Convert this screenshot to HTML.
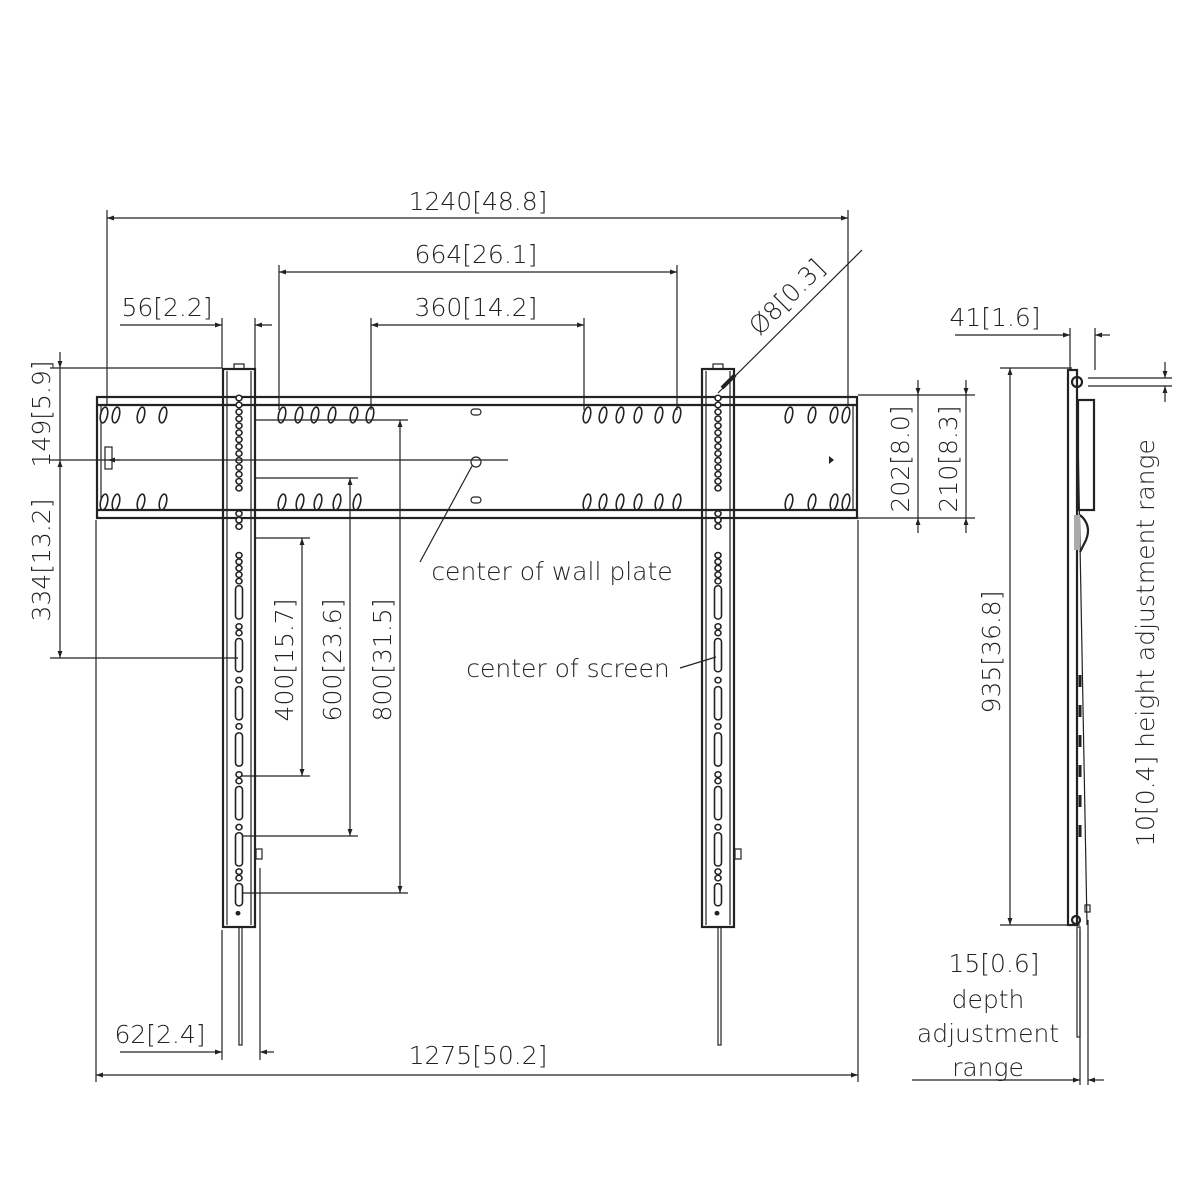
<!DOCTYPE html>
<html><head><meta charset="utf-8"><style>
html,body{margin:0;padding:0;background:#fff}
svg{display:block}
text{font-family:"DejaVu Sans","Liberation Sans",sans-serif;font-size:25px;fill:#222;font-weight:300}
.l{stroke:#222;stroke-width:1.2;fill:none}
.t{stroke:#222;stroke-width:2.2;fill:none}
.h{stroke:#222;stroke-width:1.6;fill:#fff}
</style></head><body>
<svg width="1200" height="1200" viewBox="0 0 1200 1200" xmlns="http://www.w3.org/2000/svg">
<defs>
<marker id="a" viewBox="0 0 10 10" refX="10" refY="5" markerWidth="14" markerHeight="7" orient="auto-start-reverse" markerUnits="userSpaceOnUse"><path d="M0,1.5 L10,5 L0,8.5z" fill="#222"/></marker>
<g id="ov"><ellipse cx="0" cy="0" rx="3.5" ry="8" class="h" transform="rotate(12)"/></g>
<g id="dot"><circle r="3" class="h" stroke-width="1.3"/></g>
<g id="slot"><rect x="-3.5" y="0" width="7" height="36" rx="3.5" class="h" stroke-width="1.4"/></g>
<g id="col">
 <use href="#dot" y="0"/><use href="#dot" y="7.5"/><use href="#dot" y="15"/><use href="#dot" y="22.5"/><use href="#dot" y="30"/><use href="#dot" y="37.5"/><use href="#dot" y="45"/><use href="#dot" y="52.5"/><use href="#dot" y="60"/><use href="#dot" y="67.5"/><use href="#dot" y="75"/><use href="#dot" y="82.5"/><use href="#dot" y="90"/><use href="#dot" y="97.5"/>
 <use href="#dot" y="125"/><use href="#dot" y="132"/><use href="#dot" y="139"/>
 <use href="#dot" y="170"/><use href="#dot" y="177"/><use href="#dot" y="184"/><use href="#dot" y="191"/><use href="#dot" y="198"/>
 <use href="#slot" y="203"/><use href="#dot" y="247"/><use href="#dot" y="254"/>
 <use href="#slot" y="260"/><use href="#dot" y="305"/>
 <use href="#slot" y="312"/><use href="#dot" y="355"/>
 <use href="#slot" y="362"/><use href="#dot" y="407"/><use href="#dot" y="414"/>
 <use href="#slot" y="420"/><use href="#dot" y="464"/>
 <use href="#slot" y="470"/><use href="#dot" y="512"/><use href="#dot" y="519"/>
 <rect x="-3.5" y="525" width="7" height="24" rx="3.5" class="h" stroke-width="1.4"/>
 <circle cx="-1" cy="557" r="2.5" fill="#222"/>
</g>
<g id="arm">
 <rect x="0" y="0" width="32" height="558" class="t" fill="#fff"/>
 <line x1="4" y1="2" x2="4" y2="556" class="l"/><line x1="28" y1="2" x2="28" y2="556" class="l"/>
 <rect x="11" y="-5" width="10" height="5" class="l"/>
 <g transform="translate(16,29) scale(1,0.925)"><use href="#col"/></g>
 <rect x="16" y="558" width="3" height="118" class="l"/>
 <rect x="33" y="480" width="6" height="10" class="l"/>
</g>
</defs>

<!-- wall plate -->
<rect x="97" y="397" width="760" height="121" class="t" fill="#fff"/>
<line x1="97" y1="405" x2="857" y2="405" class="t"/>
<line x1="97" y1="510" x2="857" y2="510" class="t"/>
<line x1="101" y1="405" x2="101" y2="510" class="l"/>
<line x1="853" y1="405" x2="853" y2="510" class="l"/>
<g>
<use href="#ov" x="104" y="415"/><use href="#ov" x="116" y="415"/><use href="#ov" x="141" y="415"/><use href="#ov" x="163" y="415"/>
<use href="#ov" x="104" y="502"/><use href="#ov" x="116" y="502"/><use href="#ov" x="141" y="502"/><use href="#ov" x="163" y="502"/>
<use href="#ov" x="282" y="415"/><use href="#ov" x="299" y="415"/><use href="#ov" x="315" y="415"/><use href="#ov" x="332" y="415"/><use href="#ov" x="354" y="415"/><use href="#ov" x="370" y="415"/>
<use href="#ov" x="282" y="502"/><use href="#ov" x="300" y="502"/><use href="#ov" x="318" y="502"/><use href="#ov" x="337" y="502"/><use href="#ov" x="357" y="502"/>
<use href="#ov" x="587" y="415"/><use href="#ov" x="603" y="415"/><use href="#ov" x="620" y="415"/><use href="#ov" x="638" y="415"/><use href="#ov" x="659" y="415"/><use href="#ov" x="677" y="415"/>
<use href="#ov" x="587" y="502"/><use href="#ov" x="603" y="502"/><use href="#ov" x="620" y="502"/><use href="#ov" x="638" y="502"/><use href="#ov" x="659" y="502"/><use href="#ov" x="677" y="502"/>
<use href="#ov" x="789" y="415"/><use href="#ov" x="812" y="415"/><use href="#ov" x="834" y="415"/><use href="#ov" x="846" y="415"/>
<use href="#ov" x="789" y="502"/><use href="#ov" x="812" y="502"/><use href="#ov" x="834" y="502"/><use href="#ov" x="846" y="502"/>
</g>
<rect x="105" y="447" width="7" height="22" class="l" fill="#444"/>
<rect x="471" y="409" width="10" height="6" rx="3" class="l"/>
<rect x="471" y="497" width="10" height="6" rx="3" class="l"/>
<circle cx="476" cy="462" r="5" class="l"/>
<path d="M829,456 l5,4 l-5,4z" fill="#222"/>

<!-- arms -->
<use href="#arm" x="223" y="369"/>
<use href="#arm" x="702" y="369"/>

<!-- centre line & extension lines -->
<line x1="50" y1="460" x2="508" y2="460" class="l"/>
<line x1="120" y1="460" x2="108" y2="460" class="l" marker-end="url(#a)"/>
<line x1="50" y1="368" x2="222" y2="368" class="l"/>
<line x1="50" y1="658" x2="238" y2="658" class="l"/>
<line x1="60" y1="352" x2="60" y2="368" class="l" marker-end="url(#a)"/>
<line x1="60" y1="368" x2="60" y2="460" class="l"/>
<line x1="60" y1="460" x2="60" y2="658" class="l" marker-start="url(#a)" marker-end="url(#a)"/>
<text transform="translate(50,414) rotate(-90)" text-anchor="middle">149[5.9]</text>
<text transform="translate(50,560) rotate(-90)" text-anchor="middle">334[13.2]</text>

<!-- top dims -->
<line x1="107" y1="210" x2="107" y2="405" class="l"/>
<line x1="848" y1="210" x2="848" y2="405" class="l"/>
<line x1="107" y1="218" x2="848" y2="218" class="l" marker-start="url(#a)" marker-end="url(#a)"/>
<text x="478" y="210" text-anchor="middle">1240[48.8]</text>
<line x1="279" y1="265" x2="279" y2="410" class="l"/>
<line x1="677" y1="265" x2="677" y2="410" class="l"/>
<line x1="279" y1="272" x2="677" y2="272" class="l" marker-start="url(#a)" marker-end="url(#a)"/>
<text x="476" y="263" text-anchor="middle">664[26.1]</text>
<line x1="371" y1="318" x2="371" y2="410" class="l"/>
<line x1="584" y1="318" x2="584" y2="410" class="l"/>
<line x1="371" y1="325" x2="584" y2="325" class="l" marker-start="url(#a)" marker-end="url(#a)"/>
<text x="476" y="316" text-anchor="middle">360[14.2]</text>
<line x1="222" y1="318" x2="222" y2="368" class="l"/>
<line x1="255" y1="318" x2="255" y2="368" class="l"/>
<line x1="205" y1="325" x2="222" y2="325" class="l" marker-end="url(#a)"/>
<line x1="272" y1="325" x2="255" y2="325" class="l" marker-end="url(#a)"/>
<line x1="120" y1="325" x2="205" y2="325" class="l"/>
<text x="167" y="316" text-anchor="middle">56[2.2]</text>
<line x1="718" y1="393" x2="862" y2="250" class="l"/>
<line x1="722" y1="388" x2="735" y2="375" stroke="#222" stroke-width="4"/>
<text transform="translate(793,303) rotate(-45)" text-anchor="middle">Ø8[0.3]</text>

<!-- right plate dims -->
<line x1="858" y1="395" x2="975" y2="395" class="l"/>
<line x1="858" y1="518" x2="975" y2="518" class="l"/>
<line x1="918" y1="380" x2="918" y2="395" class="l" marker-end="url(#a)"/>
<line x1="918" y1="533" x2="918" y2="518" class="l" marker-end="url(#a)"/>
<line x1="918" y1="395" x2="918" y2="518" class="l"/>
<line x1="966" y1="380" x2="966" y2="395" class="l" marker-end="url(#a)"/>
<line x1="966" y1="533" x2="966" y2="518" class="l" marker-end="url(#a)"/>
<line x1="966" y1="395" x2="966" y2="518" class="l"/>
<text transform="translate(909,459) rotate(-90)" text-anchor="middle">202[8.0]</text>
<text transform="translate(957,459) rotate(-90)" text-anchor="middle">210[8.3]</text>

<!-- 400/600/800 -->
<line x1="255" y1="420" x2="408" y2="420" class="l"/>
<line x1="255" y1="478" x2="358" y2="478" class="l"/>
<line x1="255" y1="538" x2="310" y2="538" class="l"/>
<line x1="242" y1="776" x2="310" y2="776" class="l"/>
<line x1="242" y1="836" x2="358" y2="836" class="l"/>
<line x1="242" y1="893" x2="408" y2="893" class="l"/>
<line x1="302" y1="538" x2="302" y2="776" class="l" marker-start="url(#a)" marker-end="url(#a)"/>
<line x1="350" y1="478" x2="350" y2="836" class="l" marker-start="url(#a)" marker-end="url(#a)"/>
<line x1="400" y1="420" x2="400" y2="893" class="l" marker-start="url(#a)" marker-end="url(#a)"/>
<rect x="272" y="598" width="24" height="125" fill="#fff"/>
<rect x="320" y="598" width="24" height="125" fill="#fff"/>
<rect x="370" y="598" width="24" height="125" fill="#fff"/>
<text transform="translate(293,660) rotate(-90)" text-anchor="middle">400[15.7]</text>
<text transform="translate(341,660) rotate(-90)" text-anchor="middle">600[23.6]</text>
<text transform="translate(391,660) rotate(-90)" text-anchor="middle">800[31.5]</text>

<!-- callouts -->
<line x1="420" y1="562" x2="472" y2="466" class="l"/>
<text x="552" y="580" text-anchor="middle">center of wall plate</text>
<line x1="680" y1="668" x2="716" y2="657" class="l"/>
<text x="568" y="677" text-anchor="middle">center of screen</text>

<!-- bottom dims -->
<line x1="96" y1="520" x2="96" y2="1082" class="l"/>
<line x1="858" y1="520" x2="858" y2="1082" class="l"/>
<line x1="96" y1="1075" x2="858" y2="1075" class="l" marker-start="url(#a)" marker-end="url(#a)"/>
<text x="478" y="1064" text-anchor="middle">1275[50.2]</text>
<line x1="222" y1="930" x2="222" y2="1060" class="l"/>
<line x1="260" y1="868" x2="260" y2="1060" class="l"/>
<line x1="208" y1="1052" x2="222" y2="1052" class="l" marker-end="url(#a)"/>
<line x1="274" y1="1052" x2="260" y2="1052" class="l" marker-end="url(#a)"/>
<line x1="120" y1="1052" x2="208" y2="1052" class="l"/>
<text x="160" y="1043" text-anchor="middle">62[2.4]</text>

<!-- side view -->
<rect x="1068" y="370" width="9" height="555" class="t" fill="#fff"/>
<line x1="1077" y1="380" x2="1087" y2="925" class="l"/>
<rect x="1078" y="400" width="16" height="110" class="t" fill="#fff"/>
<circle cx="1077" cy="382" r="5" class="t"/>
<path d="M1080,515 q12,10 6,25 l-6,12" class="t"/>
<rect x="1074" y="515" width="6" height="35" fill="#aaa"/>
<circle cx="1076" cy="920" r="4" class="t"/>
<rect x="1085" y="905" width="5" height="7" class="l"/>
<rect x="1077" y="927" width="3" height="110" class="l"/>
<path d="M1080,675v12M1080,705v12M1080,735v12M1080,765v12M1080,795v12M1080,825v12" stroke="#222" stroke-width="3"/>
<line x1="1070" y1="328" x2="1070" y2="370" class="l"/>
<line x1="1095" y1="328" x2="1095" y2="370" class="l"/>
<line x1="955" y1="335" x2="1070" y2="335" class="l" marker-end="url(#a)"/>
<line x1="1110" y1="335" x2="1095" y2="335" class="l" marker-end="url(#a)"/>
<text x="995" y="326" text-anchor="middle">41[1.6]</text>
<line x1="1000" y1="368" x2="1072" y2="368" class="l"/>
<line x1="1000" y1="925" x2="1080" y2="925" class="l"/>
<line x1="1010" y1="368" x2="1010" y2="925" class="l" marker-start="url(#a)" marker-end="url(#a)"/>
<rect x="980" y="590" width="26" height="125" fill="#fff"/>
<text transform="translate(1000,652) rotate(-90)" text-anchor="middle">935[36.8]</text>
<line x1="1088" y1="378" x2="1172" y2="378" class="l"/>
<line x1="1088" y1="386" x2="1172" y2="386" class="l"/>
<line x1="1165" y1="362" x2="1165" y2="378" class="l" marker-end="url(#a)"/>
<line x1="1165" y1="402" x2="1165" y2="386" class="l" marker-end="url(#a)"/>
<text transform="translate(1154,643) rotate(-90)" text-anchor="middle">10[0.4] height adjustment range</text>
<line x1="1080" y1="930" x2="1080" y2="1085" class="l"/>
<line x1="1088" y1="920" x2="1088" y2="1085" class="l"/>
<line x1="912" y1="1080" x2="1080" y2="1080" class="l" marker-end="url(#a)"/>
<line x1="1104" y1="1080" x2="1088" y2="1080" class="l" marker-end="url(#a)"/>
<text x="994" y="972" text-anchor="middle">15[0.6]</text>
<text x="988" y="1008" text-anchor="middle">depth</text>
<text x="988" y="1042" text-anchor="middle">adjustment</text>
<text x="988" y="1076" text-anchor="middle">range</text>
</svg>
</body></html>
